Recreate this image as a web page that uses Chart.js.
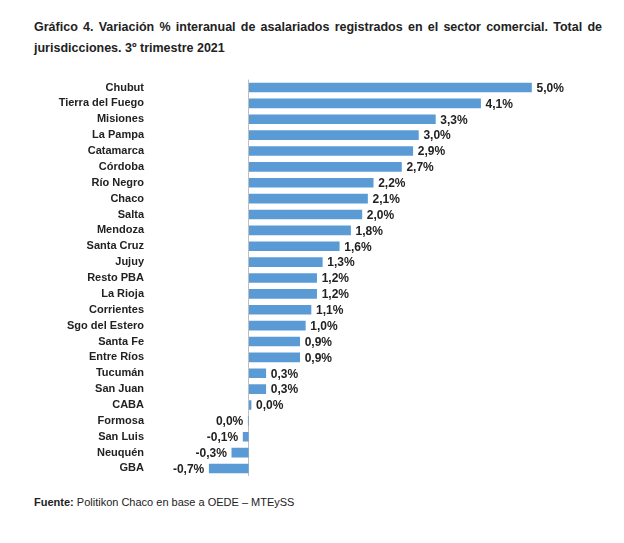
<!DOCTYPE html>
<html><head><meta charset="utf-8">
<script src="https://cdn.jsdelivr.net/npm/chart.js@4"></script>
<style>
body{margin:0;width:624px;height:543px;background:#fff;font-family:"Liberation Sans",Arial,sans-serif;position:relative}
#t{position:absolute;left:34px;top:17px;width:568px;font-size:12.5px;font-weight:bold;line-height:21px;text-align:justify;color:#222}
#f{position:absolute;left:34px;top:496px;font-size:11px;color:#222}
#c{position:absolute;left:0;top:61px;width:624px;height:434px}
</style></head><body>
<div id="t">Gráfico 4. Variación % interanual de asalariados registrados en el sector comercial. Total de jurisdicciones. 3º trimestre 2021</div>
<div id="c"><canvas id="chart"></canvas></div>
<div id="f"><b>Fuente:</b> Politikon Chaco en base a OEDE – MTEySS</div>
<script>
var provincias = ['Chubut','Tierra del Fuego','Misiones','La Pampa','Catamarca','Córdoba','Río Negro','Chaco','Salta','Mendoza','Santa Cruz','Jujuy','Resto PBA','La Rioja','Corrientes','Sgo del Estero','Santa Fe','Entre Ríos','Tucumán','San Juan','CABA','Formosa','San Luis','Neuquén','GBA'];
var variacion = [5.0,4.1,3.3,3.0,2.9,2.7,2.2,2.1,2.0,1.8,1.6,1.3,1.2,1.2,1.1,1.0,0.9,0.9,0.3,0.3,0.04,-0.01,-0.1,-0.3,-0.7];

function fmt(v){ if (Math.abs(v) < 0.05) return '0,0%'; return v.toFixed(1).replace('.', ',') + '%'; }

var etiquetas = {
  id: 'etiquetas',
  afterDatasetsDraw: function(chart){
    var ctx = chart.ctx, meta = chart.getDatasetMeta(0);
    ctx.save();
    ctx.font = 'bold 12px "Liberation Sans", Arial';
    ctx.fillStyle = '#222';
    ctx.textBaseline = 'middle';
    meta.data.forEach(function(bar, i){
      var v = variacion[i];
      if (v >= 0){ ctx.textAlign = 'left'; ctx.fillText(fmt(v), bar.x + 5, bar.y + 1); }
      else { ctx.textAlign = 'right'; ctx.fillText(fmt(v), bar.x - 5, bar.y + 1); }
    });
    ctx.restore();
  }
};

var ctx = document.getElementById('chart').getContext('2d');
var chart = new Chart(ctx, {
    type: 'bar',
    data: {
        labels: provincias,
        datasets: [{
            data: variacion,
            backgroundColor: '#5B9BD5',
            barThickness: 9
        }]
    },
    options: {
        indexAxis: 'y',
        responsive: true,
        maintainAspectRatio: false,
        animation: false,
        layout: { padding: { left: 0, right: 36, top: 2, bottom: 2 } },
        plugins: { legend: { display: false }, tooltip: { enabled: false } },
        scales: {
            x: {
                min: -1.5, max: 6,
                display: true,
                ticks: { display: false },
                border: { display: false },
                grid: {
                    drawTicks: false,
                    color: function(c){ return c.tick && c.tick.value === 0 ? '#bfbfbf' : 'transparent'; }
                }
            },
            y: {
                afterFit: function(s){ s.width = 164; },
                border: { display: false },
                grid: { display: false },
                ticks: { autoSkip: false, color: '#222', padding: 12, font: { family: '"Liberation Sans", Arial', size: 11, weight: 'bold' } }
            }
        }
    },
    plugins: [etiquetas]
});
</script>
</body></html>
